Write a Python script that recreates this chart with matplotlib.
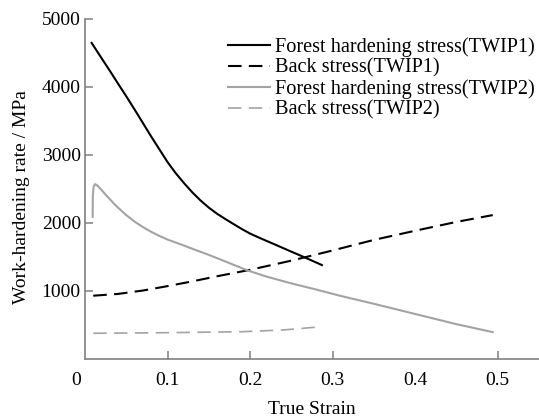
import matplotlib
matplotlib.use("Agg")
import matplotlib.pyplot as plt
import matplotlib.transforms as mtransforms

plt.rcParams['font.family'] = ['Liberation Serif', 'DejaVu Serif']

# Forest hardening stress (TWIP1)
f1_x = [0.008, 0.02, 0.03, 0.04, 0.05, 0.06, 0.07, 0.08, 0.09, 0.10, 0.11, 0.12, 0.13, 0.14,
        0.15, 0.16, 0.17, 0.18, 0.19, 0.20, 0.21, 0.22, 0.23, 0.24, 0.25, 0.26, 0.27, 0.28, 0.287]
f1_y = [4644, 4420, 4235, 4045, 3858, 3665, 3468, 3270, 3080, 2890, 2725, 2580, 2445, 2325,
        2220, 2130, 2052, 1978, 1905, 1838, 1783, 1730, 1678, 1625, 1572, 1520, 1467, 1413, 1375]

# Back stress (TWIP1)
b1_x = [0.010, 0.04, 0.07, 0.10, 0.13, 0.16, 0.20, 0.25, 0.30, 0.35, 0.40, 0.45, 0.494]
b1_y = [924, 950, 1000, 1065, 1135, 1210, 1305, 1440, 1590, 1745, 1880, 2010, 2110]

# Forest hardening stress (TWIP2)
f2_x = [0.0093, 0.0095, 0.0105, 0.0121, 0.015, 0.02, 0.025, 0.03, 0.035, 0.04, 0.05, 0.06,
        0.07, 0.08, 0.09, 0.10, 0.115, 0.13, 0.15, 0.17, 0.196, 0.22, 0.25, 0.28, 0.31, 0.35,
        0.38, 0.41, 0.45, 0.494]
f2_y = [2085, 2400, 2530, 2566, 2545, 2480, 2410, 2345, 2280, 2220, 2110, 2015,
        1935, 1865, 1805, 1750, 1684, 1615, 1525, 1428, 1300, 1205, 1105, 1015, 920, 805,
        715, 625, 505, 388]

# Back stress (TWIP2)
b2_x = [0.010, 0.10, 0.19, 0.24, 0.287]
b2_y = [371, 380, 394, 420, 468]

labels = ['Forest hardening stress(TWIP1)', 'Back stress(TWIP1)',
          'Forest hardening stress(TWIP2)', 'Back stress(TWIP2)']

x_ticks = [0, 0.1, 0.2, 0.3, 0.4, 0.5]
x_tick_labels = ['0', '0.1', '0.2', '0.3', '0.4', '0.5']
y_ticks = [1000, 2000, 3000, 4000, 5000]

fig = plt.figure(figsize=(5.39, 4.17), dpi=100)
ax = fig.add_axes([85/539, 58.5/417, 1 - 85/539, (358.5 - 18.7)/417])

grey = '#a3a3a3'
ax.plot(f1_x, f1_y, color='black', lw=1.5, label=labels[0])
ax.plot(b1_x, b1_y, color='black', lw=1.5, ls=(0, (6.5, 3.5)), label=labels[1])
ax.plot(f2_x, f2_y, color=grey, lw=1.5, label=labels[2])
ax.plot(b2_x, b2_y, color=grey, lw=1.2, ls=(0, (8, 4.5)), label=labels[3])

ax.set_xlim(0, 0.55)
ax.set_ylim(0, 5000)
ax.set_xticks(x_ticks)
ax.set_xticklabels(x_tick_labels)
ax.set_yticks(y_ticks)

for s in ['top', 'right']:
    ax.spines[s].set_visible(False)
for s in ['left', 'bottom']:
    ax.spines[s].set_color('#808080')
    ax.spines[s].set_linewidth(1.2)

ax.tick_params(axis='both', direction='in', length=6, width=1.1, color='#808080',
               labelsize=14, labelcolor='black')
ax.tick_params(axis='x', pad=10)
ax.tick_params(axis='y', pad=3)

xt = ax.xaxis.get_major_ticks()
xt[0].tick1line.set_visible(False)
xt[4].tick1line.set_visible(False)
# shift the "0" label slightly left as in the reference
off = mtransforms.ScaledTranslation(-9/100, 0, fig.dpi_scale_trans)
lbl0 = ax.get_xticklabels()[0]
lbl0.set_transform(lbl0.get_transform() + off)

ax.set_xlabel('True Strain', fontsize=14, labelpad=8)
ax.set_ylabel('Work-hardening rate / MPa', fontsize=14)
ax.yaxis.set_label_coords(-0.122, 0.475)

leg = ax.legend(loc='upper right', bbox_to_anchor=(0.99, 0.946), frameon=False,
                fontsize=14.6, handlelength=2.07, handletextpad=0.25,
                labelspacing=0.08, borderaxespad=0.0, borderpad=0)

fig.savefig('out.png', dpi=100)
